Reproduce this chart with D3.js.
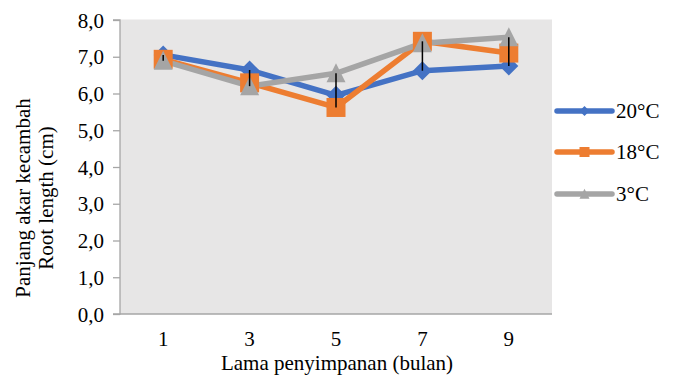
<!DOCTYPE html>
<html>
<head>
<meta charset="utf-8">
<script src="https://cdn.jsdelivr.net/npm/d3@7"></script>
<style>
  html, body { margin: 0; padding: 0; background: #fff; }
  svg { display: block; }
  text { font-family: "Liberation Serif", "Times New Roman", serif; fill: #000; }
</style>
</head>
<body>
<svg id="chart" width="675" height="382"></svg>
<script>
const categories = ["1", "3", "5", "7", "9"];
const seriesNames = ["20°C", "18°C", "3°C"];
const values20 = [7.05, 6.64, 5.95, 6.62, 6.75];
const values18 = [6.93, 6.29, 5.62, 7.42, 7.10];
const values3  = [6.89, 6.20, 6.55, 7.37, 7.53];
const yTicks = [0, 1, 2, 3, 4, 5, 6, 7, 8];
const colors = ["#4472C4", "#ED7D31", "#A5A5A5"];
const markers = ["diamond", "square", "triangle"];

const series = [values20, values18, values3].map((v, i) => ({
  name: seriesNames[i], values: v, color: colors[i], marker: markers[i]
}));

const svg = d3.select("#chart");
const pLeft = 120, pRight = 552, pTop = 19.5, pBottom = 314;

const x = d3.scaleBand().domain(categories).range([pLeft, pRight]);
const y = d3.scaleLinear().domain([0, 8]).range([pBottom, 20]);
const cx = c => x(c) + x.bandwidth() / 2;

// plot background
svg.append("rect")
  .attr("x", pLeft).attr("y", pTop)
  .attr("width", pRight - pLeft).attr("height", pBottom - pTop)
  .attr("fill", "#E7E6E6");

// y axis
const yAxis = d3.axisLeft(y).tickValues(yTicks).tickSize(7).tickPadding(9)
  .tickFormat(d => d3.format(".1f")(d).replace(".", ","));
const gy = svg.append("g").attr("transform", `translate(${pLeft},0)`).call(yAxis);
gy.select(".domain").attr("stroke", "#A6A6A6").attr("stroke-width", 1.3)
  .attr("d", `M${-7},${y(8)}H0V${pBottom}H-7`);
gy.selectAll(".tick line").attr("stroke", "#A6A6A6").attr("stroke-width", 1.3);
gy.selectAll(".tick text").style("font-size", "21px")
  .attr("font-family", "Liberation Serif").attr("fill", "#000").attr("dy", "0.34em");

// x axis
const xAxis = d3.axisBottom(x).tickSize(0).tickPadding(0);
const gx = svg.append("g").attr("transform", `translate(0,${pBottom})`).call(xAxis);
gx.select(".domain").attr("stroke", "#A6A6A6").attr("stroke-width", 1.5)
  .attr("d", `M${pLeft},0H${pRight}`);
gx.selectAll(".tick text").style("font-size", "21px")
  .attr("font-family", "Liberation Serif").attr("fill", "#000")
  .attr("dy", null).attr("y", 31.5);

// axis titles
svg.append("text").attr("x", (pLeft + pRight) / 2 + 1).attr("y", 370)
  .attr("text-anchor", "middle").style("font-size", "21px")
  .text("Lama penyimpanan (bulan)");
const yt = svg.append("g").attr("transform", "translate(0,198) rotate(-90)");
yt.append("text").attr("x", 0).attr("y", 30).attr("text-anchor", "middle")
  .style("font-size", "21px").text("Panjang akar kecambah");
yt.append("text").attr("x", 0).attr("y", 53).attr("text-anchor", "middle")
  .style("font-size", "21px").text("Root length (cm)");

// lines
const line = d3.line().x((d, i) => cx(categories[i])).y(d => y(d));
series.forEach(s => {
  svg.append("path").datum(s.values)
    .attr("d", line).attr("fill", "none")
    .attr("stroke", s.color).attr("stroke-width", 5.5)
    .attr("stroke-linejoin", "round").attr("stroke-linecap", "round");
});

function markerPath(type, r) {
  if (type === "diamond") return `M0,${-r}L${r},0L0,${r}L${-r},0Z`;
  if (type === "square") return `M${-r},${-r}H${r}V${r}H${-r}Z`;
  return `M0,${-r * 1.05}L${r},${r * 0.95}H${-r}Z`;
}
const markerSize = { diamond: 9.5, square: 9.5, triangle: 9.5 };

// markers (drawn per series in order)
series.forEach(s => {
  svg.append("g").selectAll("path").data(s.values).join("path")
    .attr("transform", (d, i) => `translate(${cx(categories[i])},${y(d)})`)
    .attr("d", markerPath(s.marker, markerSize[s.marker]))
    .attr("fill", s.color);
});

// high-low lines
const hl = categories.map((c, i) => {
  const vals = series.map(s => s.values[i]);
  return { c, hi: d3.max(vals), lo: d3.min(vals) };
});
svg.append("g").selectAll("line").data(hl).join("line")
  .attr("x1", d => cx(d.c)).attr("x2", d => cx(d.c))
  .attr("y1", d => y(d.hi)).attr("y2", d => y(d.lo))
  .attr("stroke", "#000").attr("stroke-width", 1.5);

// legend
const legendY = [111, 152, 194];
const lg = svg.append("g");
series.forEach((s, i) => {
  const g = lg.append("g").attr("transform", `translate(0,${legendY[i]})`);
  g.append("line").attr("x1", 557).attr("x2", 612).attr("y1", 0).attr("y2", 0)
    .attr("stroke", s.color).attr("stroke-width", 5.5).attr("stroke-linecap", "round");
  g.append("path").attr("transform", "translate(584.5,0)")
    .attr("d", markerPath(s.marker, 5))
    .attr("fill", s.color);
  g.append("text").attr("x", 616).attr("y", 0).attr("dy", "0.34em")
    .style("font-size", "21px").text(s.name);
});
</script>
</body>
</html>
